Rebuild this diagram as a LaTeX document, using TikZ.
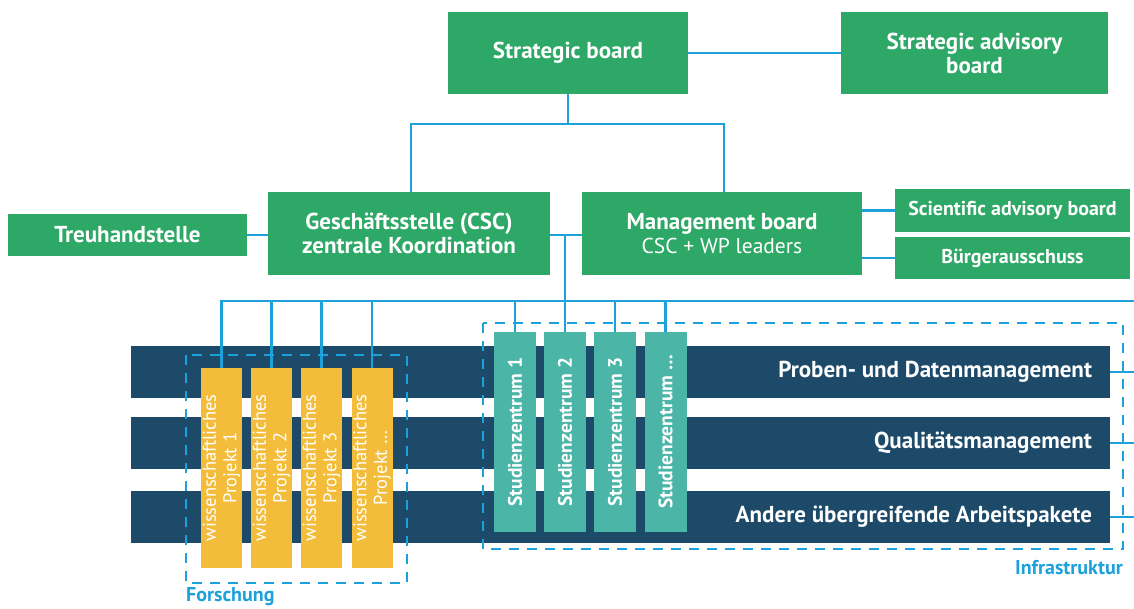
\documentclass[tikz,border=0pt]{standalone}
\usepackage{fontspec}
\setmainfont{PT Sans}
\definecolor{boxgreen}{HTML}{2EA866}
\definecolor{navy}{HTML}{1E4A6A}
\definecolor{projyellow}{HTML}{F3BD3B}
\definecolor{centerteal}{HTML}{4BB6A8}
\definecolor{linkblue}{HTML}{1DA1DB}
\begin{document}
\begin{tikzpicture}[x=1pt,y=-1pt,
  gbox/.style={fill=boxgreen,text=white,inner sep=0pt,align=center,font=\bfseries\fontsize{23}{24}\selectfont},
  sbox/.style={gbox,font=\bfseries\fontsize{20}{22}\selectfont},
  barbox/.style={fill=navy,inner sep=0pt,minimum width=979pt,minimum height=52pt},
  bartext/.style={text=white,inner sep=0pt,anchor=east,font=\bfseries\fontsize{23}{24}\selectfont},
  projbox/.style={fill=projyellow,text=white,inner sep=0pt,minimum width=41pt,minimum height=200pt},
  projtext/.style={text=white,inner sep=0pt,rotate=90,align=center,font=\fontsize{18.5}{20.5}\selectfont},
  ctrtext/.style={text=white,inner sep=0pt,rotate=90,font=\bfseries\fontsize{19.5}{21}\selectfont},
  ctrbox/.style={fill=centerteal,inner sep=0pt,minimum width=42pt,minimum height=200pt},
  link/.style={draw=linkblue,line width=2.4pt},
  group/.style={draw=linkblue,line width=2.2pt,dash pattern=on 10pt off 8pt},
  grouplabel/.style={text=linkblue,inner sep=0pt,font=\bfseries\fontsize{20}{22}\selectfont}
]
\useasboundingbox (0,0) rectangle (1134,608);

% top level
\node[gbox,minimum width=240pt,minimum height=82pt] (sb) at (568,53) {Strategic board};
\node[gbox,minimum width=267pt,minimum height=82pt] (sab) at (974.5,53) {Strategic advisory\\board};
% second level
\node[gbox,minimum width=282pt,minimum height=83pt] (csc) at (409,233.5) {Geschäftsstelle (CSC)\\zentrale Koordination};
\node[gbox,minimum width=280pt,minimum height=83pt] (mb) at (722,233.5) {Management board\\{\mdseries\fontsize{21.5}{24}\selectfont CSC + WP leaders}};
\node[gbox,minimum width=239pt,minimum height=42pt] (treu) at (127.5,235) {Treuhandstelle};
\node[sbox,minimum width=235pt,minimum height=43pt] (sci) at (1012.5,210.5) {Scientific advisory board};
\node[sbox,minimum width=235pt,minimum height=42pt] (bue) at (1012.5,258) {Bürgerausschuss};

% bars
\node[barbox] (bar1) at (620.5,372) {};
\node[barbox] (bar2) at (620.5,443) {};
\node[barbox] (bar3) at (620.5,517) {};
\node[bartext] (bt1) at ([xshift=-18pt]bar1.east) {Proben- und Datenmanagement};
\node[bartext] (bt2) at ([xshift=-18pt]bar2.east) {Qualitätsmanagement};
\node[bartext] (bt3) at ([xshift=-18pt]bar3.east) {Andere übergreifende Arbeitspakete};

% group frames
\draw[group] (186,355) rectangle (407,583);
\draw[group] (483,323) rectangle (1123,549);
\node[grouplabel,anchor=west] (lf) at (186,597) {Forschung};
\node[grouplabel,anchor=east] (li) at (1123,568) {Infrastruktur};

% projects
\foreach \i/\x/\t in {1/221.5/1,2/271.5/2,3/321.5/3,4/372/\dots}{
  \node[projbox] (p\i) at (\x,468) {};
  \node[projtext] (pt\i) at (p\i.center) {wissenschaftliches\\Projekt \t};
}
% study centres
\foreach \i/\x/\t in {1/515/1,2/565/2,3/615/3,4/665.5/\dots}{
  \node[ctrbox] (c\i) at (\x,432) {};
  \node[ctrtext] (ct\i) at (c\i.center) {Studienzentrum \t};
}

% connectors
\coordinate (jtop) at (568,124);
\coordinate (jmid) at (565,235);
\coordinate (busR) at (1134,301);
\draw[link] (sb.east) -- (sab.west);
\draw[link] (sb.south) -- (jtop);
\draw[link] ([xshift=2pt]csc.north) |- (jtop) -| ([xshift=2pt]mb.north);
\draw[link] (treu.east) -- (treu.east -| csc.west);
\draw[link] (csc.east |- jmid) -- (mb.west |- jmid);
\draw[link] (jmid) -- (jmid |- busR);
\draw[link] (p1.north) |- (busR);
\foreach \i in {2,3,4}{\draw[link] (p\i.north) -- (p\i.north |- busR);}
\foreach \i in {1,2,3,4}{\draw[link] (c\i.north) -- (c\i.north |- busR);}
\draw[link] (sci.west -| mb.east) -- (sci.west);
\draw[link] (bue.west -| mb.east) -- (bue.west);
\foreach \i in {1,2,3}{\draw[link] (bar\i.east) -- (bar\i.east -| busR);}
\end{tikzpicture}
\end{document}
